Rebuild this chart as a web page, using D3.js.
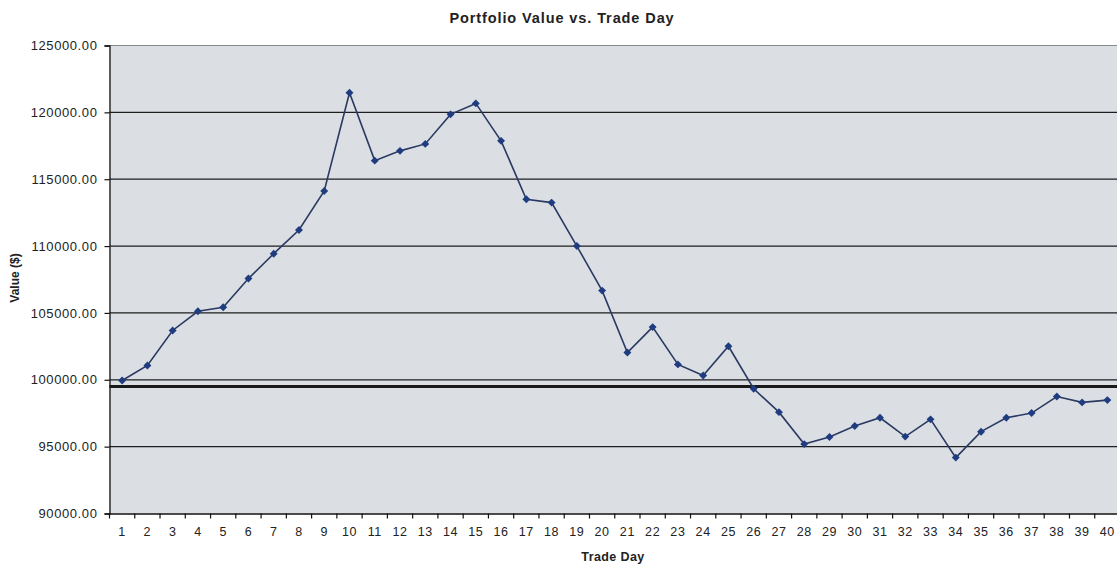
<!DOCTYPE html>
<html>
<head>
<meta charset="utf-8">
<script src="https://cdn.jsdelivr.net/npm/d3@7"></script>
<style>
  html, body { margin: 0; padding: 0; background: #fff; }
  svg { display: block; font-family: "Liberation Sans", Arial, sans-serif; }
</style>
</head>
<body>
<svg id="chart" width="1117" height="565"></svg>
<script>
// Portfolio value at the close of each trade day
const tradeDays = d3.range(1, 41);
const portfolioValues = [
  99950, 101070, 103690, 105120, 105420, 107570, 109430, 111200, 114120, 121470,
  116390, 117120, 117640, 119850, 120670, 117870, 113500, 113250, 110000, 106670,
  102040, 103940, 101150, 100320, 102510, 99330, 97580, 95190, 95720, 96540,
  97160, 95750, 97040, 94180, 96120, 97160, 97510, 98750, 98310, 98480
];
const baselineValue = [99500];
const yTicks = [90000, 95000, 100000, 105000, 110000, 115000, 120000, 125000];

const svg = d3.select("#chart");
const margin = { left: 109.5, right: -3, top: 45.5, bottom: 51.5 };
const W = 1117, H = 565;
const innerW = W - margin.left - margin.right;
const innerH = H - margin.top - margin.bottom;

const x = d3.scaleBand().domain(tradeDays).range([0, innerW]);
const y = d3.scaleLinear().domain([90000, 125000]).range([innerH, 0]);

const g = svg.append("g").attr("transform", `translate(${margin.left},${margin.top})`);

// plot area
g.append("rect")
  .attr("width", innerW).attr("height", innerH)
  .attr("fill", "#dbdfe4");
g.append("line")
  .attr("x1", 0).attr("x2", innerW).attr("y1", 0).attr("y2", 0)
  .attr("stroke", "#8a8a8a").attr("stroke-width", 1);

// horizontal gridlines
g.append("g").selectAll("line")
  .data(yTicks.filter(d => d > 90000 && d < 125000))
  .join("line")
  .attr("x1", 0).attr("x2", innerW)
  .attr("y1", d => y(d)).attr("y2", d => y(d))
  .attr("stroke", "#1e1e1e").attr("stroke-width", 1.3);

// baseline reference
g.append("g").selectAll("line")
  .data(baselineValue)
  .join("line")
  .attr("x1", 0).attr("x2", innerW)
  .attr("y1", d => y(d)).attr("y2", d => y(d))
  .attr("stroke", "#1a1a1a").attr("stroke-width", 3);

// y axis
const yAxis = g.append("g")
  .call(d3.axisLeft(y).tickValues(yTicks).tickSize(5).tickPadding(7).tickFormat(d3.format(".2f")));
yAxis.select(".domain").attr("stroke", "#111").attr("stroke-width", 1.3);
yAxis.selectAll(".tick line").attr("stroke", "#111").attr("stroke-width", 1.2);
yAxis.selectAll("text").attr("font-size", 13).attr("fill", "#222")
  .style("letter-spacing", "0.6px");

// x axis with tick marks between categories
const xAxis = g.append("g").attr("transform", `translate(0,${innerH})`)
  .call(d3.axisBottom(x).tickSize(0).tickPadding(14));
xAxis.select(".domain").attr("stroke", "#111").attr("stroke-width", 1.3);
xAxis.selectAll("text").attr("font-size", 12.5).attr("fill", "#222")
  .style("letter-spacing", "0.6px");
g.append("g").attr("transform", `translate(0,${innerH})`)
  .selectAll("line")
  .data(tradeDays)
  .join("line")
  .attr("x1", d => x(d)).attr("x2", d => x(d))
  .attr("y1", 0).attr("y2", 5)
  .attr("stroke", "#111").attr("stroke-width", 1.2);

// value series
const line = d3.line()
  .x((d, i) => x(tradeDays[i]) + x.bandwidth() / 2)
  .y(d => y(d));
g.append("path")
  .datum(portfolioValues)
  .attr("d", line)
  .attr("fill", "none")
  .attr("stroke", "#2b3a62")
  .attr("stroke-width", 1.6);

g.append("g").selectAll("path")
  .data(portfolioValues)
  .join("path")
  .attr("d", d3.symbol(d3.symbolDiamond2, 40))
  .attr("transform", (d, i) => `translate(${x(tradeDays[i]) + x.bandwidth() / 2},${y(d)})`)
  .attr("fill", "#1f3c80");

// titles
svg.append("text")
  .attr("x", 562).attr("y", 23)
  .attr("text-anchor", "middle")
  .attr("font-size", 14.5).attr("font-weight", "bold").attr("fill", "#222")
  .style("letter-spacing", "0.9px")
  .text("Portfolio Value vs. Trade Day");

svg.append("text")
  .attr("x", 613).attr("y", 561)
  .attr("text-anchor", "middle")
  .attr("font-size", 12.5).attr("font-weight", "bold").attr("fill", "#222")
  .style("letter-spacing", "0.4px")
  .text("Trade Day");

svg.append("text")
  .attr("transform", "translate(19,278) rotate(-90)")
  .attr("text-anchor", "middle")
  .attr("font-size", 12).attr("font-weight", "bold").attr("fill", "#222")
  .text("Value ($)");
</script>
</body>
</html>
